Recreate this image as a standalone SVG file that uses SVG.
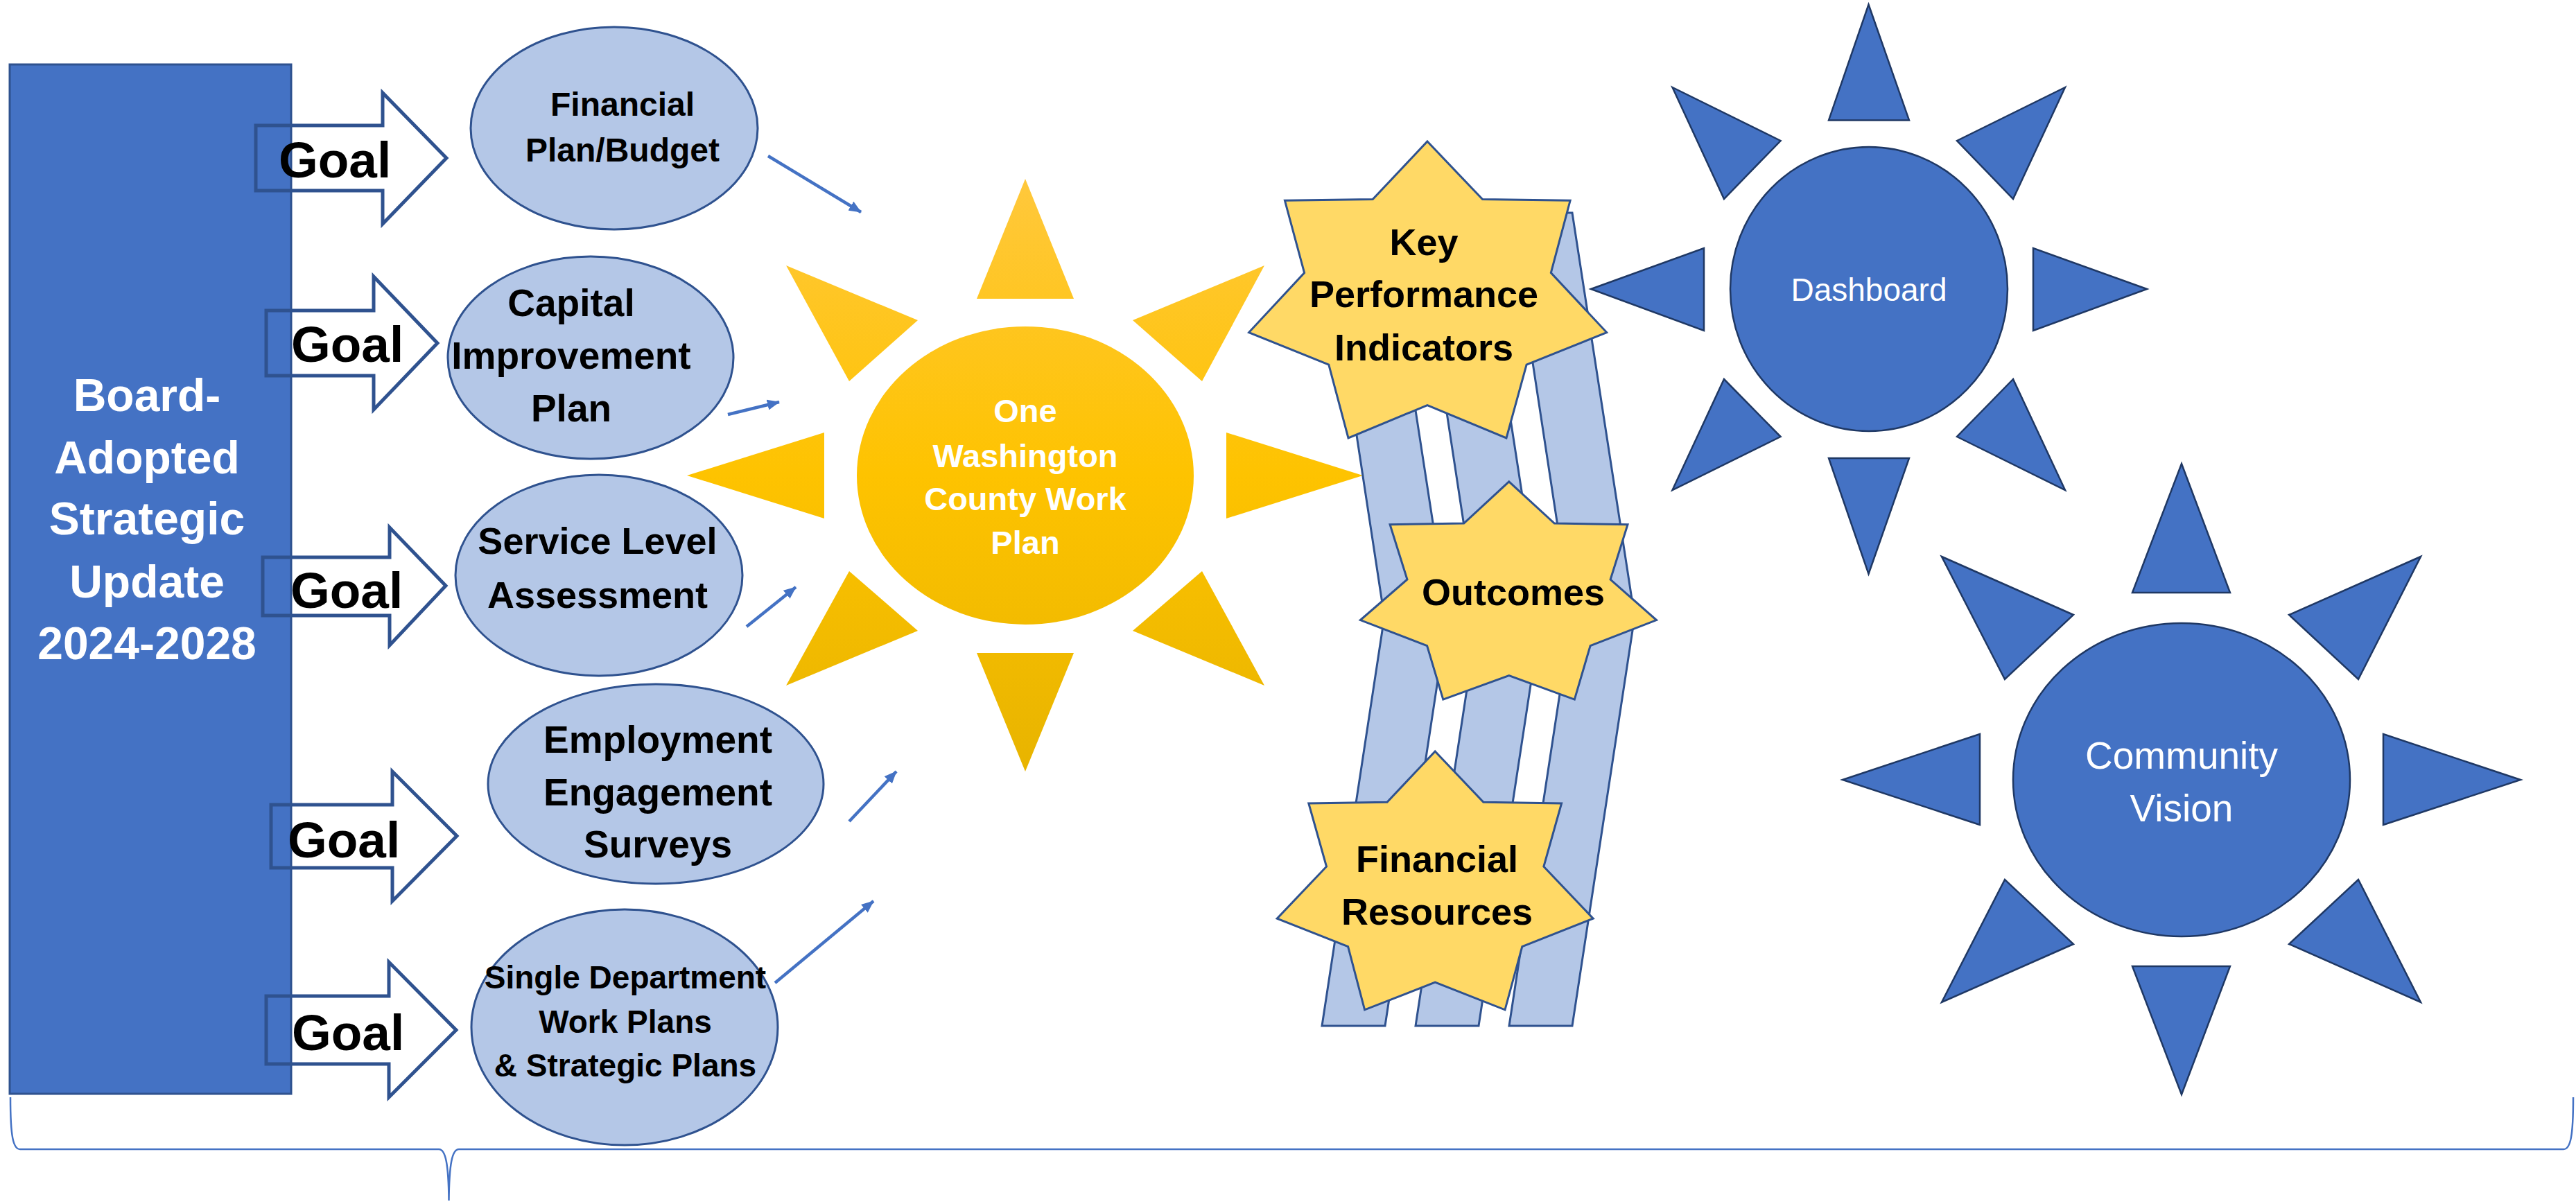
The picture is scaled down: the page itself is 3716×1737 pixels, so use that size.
<svg xmlns="http://www.w3.org/2000/svg" width="3716" height="1737" viewBox="0 0 3716 1737">
<defs>
<linearGradient id="sunGrad" gradientUnits="userSpaceOnUse" x1="0" y1="258" x2="0" y2="1113">
<stop offset="0" stop-color="#FFC83C"/>
<stop offset="0.5" stop-color="#FEC300"/>
<stop offset="1" stop-color="#E8B400"/>
</linearGradient>
<marker id="ah" markerWidth="4" markerHeight="3.4" refX="3.8" refY="1.7" orient="auto" markerUnits="strokeWidth">
<path d="M0,0 L4,1.7 L0,3.4 z" fill="#4472C4"/>
</marker>
<style>
.bigrect{fill:#4472C4;stroke:#2F528F;stroke-width:3}
.goal{fill:none;stroke:#2F528F;stroke-width:5;stroke-linejoin:miter}
.ell{fill:#B4C7E7;stroke:#2F528F;stroke-width:3}
.band{fill:#B4C7E7;stroke:#2F528F;stroke-width:3;stroke-linejoin:miter}
.star{fill:#FFD966;stroke:#2F528F;stroke-width:3;stroke-linejoin:miter}
.bray{fill:#4472C4;stroke:#1F3864;stroke-width:2.5;stroke-linejoin:miter}
.conn{stroke:#4472C4;stroke-width:4.5;fill:none;marker-end:url(#ah)}
.t{font-family:"Liberation Sans",Arial,sans-serif;font-weight:bold;text-anchor:middle}
.tw{font-family:"Liberation Sans",Arial,sans-serif;fill:#FFFFFF;text-anchor:middle}
</style>
</defs>
<rect width="3716" height="1737" fill="#FFFFFF"/>

<g id="board">
<rect class="bigrect" x="14" y="93" width="406" height="1485"/>
<text class="t" fill="#FFFFFF" font-size="66" x="212"><tspan x="212" y="593">Board-</tspan><tspan x="212" y="683">Adopted</tspan><tspan x="212" y="771">Strategic</tspan><tspan x="212" y="862">Update</tspan><tspan x="212" y="951">2024-2028</tspan></text>
</g>

<g id="goal1">
<polygon class="goal" points="369,181 552,181 552,134 644,228 552,323 552,275 369,275"/>
<text class="t" font-size="73" x="402" y="256" text-anchor="start" style="text-anchor:start">Goal</text>
</g>
<g id="goal2">
<polygon class="goal" points="384,448 539,448 539,399 631,495 539,591 539,542 384,542"/>
<text class="t" font-size="73" x="420" y="522" style="text-anchor:start">Goal</text>
</g>
<g id="goal3">
<polygon class="goal" points="379,804 562,804 562,761 643,845 562,931 562,888 379,888"/>
<text class="t" font-size="73" x="419" y="877" style="text-anchor:start">Goal</text>
</g>
<g id="goal4">
<polygon class="goal" points="391,1161 566,1161 566,1113 659,1206 566,1300 566,1252 391,1252"/>
<text class="t" font-size="73" x="415" y="1237" style="text-anchor:start">Goal</text>
</g>
<g id="goal5">
<polygon class="goal" points="384,1437 561,1437 561,1388 658,1486 561,1583 561,1535 384,1535"/>
<text class="t" font-size="73" x="421" y="1515" style="text-anchor:start">Goal</text>
</g>

<g id="financial-plan">
<ellipse class="ell" cx="886" cy="185" rx="207" ry="146"/>
<text class="t" font-size="48"><tspan x="898" y="167">Financial</tspan><tspan x="898" y="233">Plan/Budget</tspan></text>
</g>
<g id="capital-plan">
<ellipse class="ell" cx="852" cy="516" rx="206" ry="146"/>
<text class="t" font-size="55"><tspan x="824" y="456">Capital</tspan><tspan x="824" y="532">Improvement</tspan><tspan x="824" y="608">Plan</tspan></text>
</g>
<g id="service-level">
<ellipse class="ell" cx="864" cy="830" rx="207" ry="145"/>
<text class="t" font-size="54"><tspan x="862" y="799">Service Level</tspan><tspan x="862" y="877">Assessment</tspan></text>
</g>
<g id="engagement">
<ellipse class="ell" cx="946" cy="1131" rx="242" ry="144"/>
<text class="t" font-size="55"><tspan x="949" y="1086">Employment</tspan><tspan x="949" y="1162">Engagement</tspan><tspan x="949" y="1237">Surveys</tspan></text>
</g>
<g id="dept-plans">
<ellipse class="ell" cx="901" cy="1482" rx="221" ry="170"/>
<text class="t" font-size="46"><tspan x="902" y="1426">Single Department</tspan><tspan x="902" y="1490">Work Plans</tspan><tspan x="902" y="1553">&amp; Strategic Plans</tspan></text>
</g>

<g id="work-plan-sun" fill="url(#sunGrad)">
<polygon points="1479,258 1549,431 1409,431"/>
<polygon points="1479,1113 1549,942 1409,942"/>
<polygon points="991,686 1189,624 1189,748"/>
<polygon points="1966,686 1769,624 1769,748"/>
<polygon points="1134,383 1324,462 1225,550"/>
<polygon points="1824,383 1634,462 1734,550"/>
<polygon points="1225,824 1324,910 1134,989"/>
<polygon points="1734,824 1634,910 1824,989"/>
<ellipse cx="1479" cy="686" rx="243" ry="215"/>
<text class="t" fill="#FFFFFF" font-size="47"><tspan x="1479" y="609">One</tspan><tspan x="1479" y="674">Washington</tspan><tspan x="1479" y="736">County Work</tspan><tspan x="1479" y="799">Plan</tspan></text>
</g>

<g id="pillars">
<polygon class="band" points="1908,307 1998,307 2088,890 1998,1480 1907,1480 1997,890"/>
<polygon class="band" points="2043,307 2133,307 2223,890 2133,1480 2042,1480 2132,890"/>
<polygon class="band" points="2178,307 2268,307 2358,890 2268,1480 2177,1480 2267,890"/>
</g>

<g id="kpi">
<polygon class="star" points="2059,204 2138.6,287.6 2265.1,289.3 2237.3,393.5 2317.7,479.6 2202.1,526.1 2173,632 2059,584.6 1945,632 1916.8,526.1 1801.6,479.6 1881.6,393.5 1853.4,289.3 1980.2,287.6"/>
<text class="t" font-size="54"><tspan x="2054" y="368">Key</tspan><tspan x="2054" y="443">Performance</tspan><tspan x="2054" y="520">Indicators</tspan></text>
</g>
<g id="outcomes">
<polygon class="star" points="2176.8,694.9 2242.3,755.1 2348,756.8 2323.1,836 2389.5,894.6 2294.1,931.6 2271.3,1009.1 2176.8,974.7 2081.8,1009.1 2058.6,931.6 1962.4,894.6 2030,836 2005.1,756.8 2111.7,755.1"/>
<text class="t" font-size="54" x="2183" y="873">Outcomes</text>
</g>
<g id="financial-resources">
<polygon class="star" points="2070.2,1084 2139.9,1157.2 2252.6,1158.9 2226.9,1250.2 2298.2,1325.1 2195.8,1365.6 2171,1456.8 2070.2,1417.2 1968.6,1456.8 1944.6,1365.6 1842.2,1325.1 1913.5,1250.2 1887.8,1158.9 2001,1157.2"/>
<text class="t" font-size="54"><tspan x="2073" y="1258">Financial</tspan><tspan x="2073" y="1334">Resources</tspan></text>
</g>

<g id="dashboard">
<polygon class="bray" points="2695.5,6.5 2754,173.4 2638,173.4"/>
<polygon class="bray" points="2695.5,828 2754,661 2638,661"/>
<polygon class="bray" points="2295,417 2458,358 2458,477"/>
<polygon class="bray" points="3097,417 2933,358 2933,477"/>
<polygon class="bray" points="2412.5,126 2568.6,203 2487,287"/>
<polygon class="bray" points="2979,126 2823,203 2904,287"/>
<polygon class="bray" points="2487,547 2568.6,630 2412.5,707"/>
<polygon class="bray" points="2904,547 2823,630 2979,707"/>
<ellipse class="bray" cx="2696" cy="417" rx="200" ry="205"/>
<text class="tw" font-size="46" x="2696" y="434">Dashboard</text>
</g>

<g id="community-vision">
<polygon class="bray" points="3147,669 3217,855 3076,855"/>
<polygon class="bray" points="3147,1579 3217,1394 3076,1394"/>
<polygon class="bray" points="2658,1125 2856,1059 2856,1190"/>
<polygon class="bray" points="3636,1125 3438,1059 3438,1190"/>
<polygon class="bray" points="2801,803 2991,887 2892,980"/>
<polygon class="bray" points="3492,803 3302,887 3402,980"/>
<polygon class="bray" points="2892,1269 2991,1362 2801,1446"/>
<polygon class="bray" points="3402,1269 3302,1362 3492,1446"/>
<ellipse class="bray" cx="3147" cy="1125" rx="243" ry="226"/>
<text class="tw" font-size="55"><tspan x="3147" y="1109">Community</tspan><tspan x="3147" y="1185">Vision</tspan></text>
</g>

<g id="connectors">
<line class="conn" x1="1108" y1="225" x2="1242" y2="306"/>
<line class="conn" x1="1050" y1="598" x2="1124" y2="580"/>
<line class="conn" x1="1077" y1="904" x2="1148" y2="847"/>
<line class="conn" x1="1225" y1="1185" x2="1293" y2="1113"/>
<line class="conn" x1="1118" y1="1418" x2="1260" y2="1300"/>
<path d="M15,1583 C15,1640 19,1658 29,1658 L633,1658 C643,1658 647,1680 647.5,1732 C648,1680 652,1658 662,1658 L3698,1658 C3708,1658 3712,1640 3712,1583" fill="none" stroke="#4472C4" stroke-width="2.5"/>
</g>
</svg>
